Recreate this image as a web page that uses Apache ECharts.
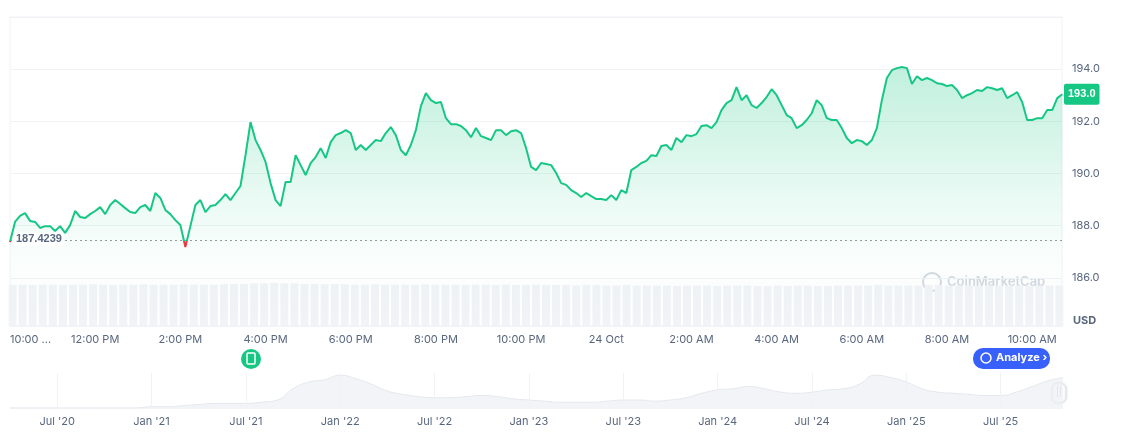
<!DOCTYPE html>
<html><head><meta charset="utf-8">
<script src="https://cdn.jsdelivr.net/npm/echarts@6/dist/echarts.min.js"></script>
<style>html,body{margin:0;padding:0;background:#fff}#c{width:1129px;height:435px}</style>
</head><body><div id="c"></div>
<script>
const refPrice = 187.4239;
const lastLabel = '193.0';
const prices = [187.37,188.14,188.37,188.48,188.18,188.14,187.91,187.98,187.98,187.79,187.98,187.72,188.02,188.56,188.33,188.29,188.44,188.56,188.71,188.44,188.79,188.98,188.83,188.67,188.52,188.48,188.71,188.79,188.56,189.25,189.06,188.60,188.44,188.21,188.02,187.18,187.98,188.79,188.98,188.52,188.75,188.79,188.98,189.21,188.98,189.25,189.52,190.70,191.97,191.28,190.90,190.44,189.63,188.98,188.75,189.67,189.67,190.70,190.32,189.94,190.40,190.63,190.97,190.59,191.20,191.47,191.55,191.66,191.55,190.90,191.09,190.90,191.09,191.28,191.24,191.55,191.78,191.47,190.90,190.70,191.09,191.66,192.58,193.08,192.81,192.70,192.74,192.12,191.89,191.89,191.82,191.66,191.39,191.74,191.43,191.36,191.28,191.66,191.66,191.47,191.62,191.66,191.55,190.97,190.25,190.13,190.40,190.36,190.32,190.02,189.63,189.56,189.36,189.25,189.10,189.25,189.13,189.02,189.02,188.98,189.17,188.98,189.36,189.25,190.13,190.25,190.40,190.48,190.70,190.67,191.05,191.09,190.90,191.36,191.20,191.47,191.43,191.51,191.82,191.85,191.74,191.97,192.43,192.70,192.81,193.31,192.81,193.00,192.62,192.51,192.70,192.93,193.23,193.00,192.62,192.24,192.12,191.74,191.85,192.05,192.31,192.81,192.62,192.12,192.05,192.05,191.74,191.36,191.16,191.28,191.24,191.09,191.28,191.74,192.81,193.66,193.96,194.04,194.08,194.04,193.43,193.73,193.58,193.66,193.58,193.46,193.43,193.35,193.39,193.20,192.89,193.00,193.08,193.20,193.16,193.31,193.27,193.20,193.27,192.89,193.00,193.12,192.74,192.05,192.05,192.12,192.12,192.43,192.43,192.89,193.04];
const volumes = [95,96,95,96,96,95,96,96,97,96,95,96,96,97,96,96,96,97,96,96,96,97,97,98,99,99,100,99,99,98,98,97,97,97,96,96,97,96,96,96,96,97,96,96,96,95,96,96,95,96,95,95,96,95,95,95,94,95,95,94,94,95,94,94,94,94,93,94,94,94,93,94,94,94,93,93,94,93,94,94,93,93,94,94,94,94,95,94,94,94,94,95,95,94,94,94,93,94,94,94,94,94,94,94,94];
const timeTicks = {0:'10:00 ...',2:'12:00 PM',4:'2:00 PM',6:'4:00 PM',8:'6:00 PM',10:'8:00 PM',12:'10:00 PM',14:'24 Oct',16:'2:00 AM',18:'4:00 AM',20:'6:00 AM',22:'8:00 AM',24:'10:00 AM'};
const priceTicks = [186,188,190,192,194];
const navStartMonth = 3;
const navValues = [1,1,1,1,1,1,1,1,1,2,2,3,4,5,5,5,6,8,18,24,26,30,27,22,16,13,11,10,10,11,12,11,9,8,7,6,6,6,7,8,8,7,8,10,14,17,18,20,18,15,14,15,17,18,22,30,28,24,18,15,14,13,12,12,15,20,25,28];
const navTicks = {6:"Jul '20",12:"Jan '21",18:"Jul '21",24:"Jan '22",30:"Jul '22",36:"Jan '23",42:"Jul '23",48:"Jan '24",54:"Jul '24",60:"Jan '25",66:"Jul '25"};

const step = 5/42.5;
const priceData = prices.map((v,i)=>[i*step, v]);
const volData = volumes.map((v,i)=>[i*(24.7/(volumes.length-1)), v]);
const navData = navValues.map((v,i)=>[navStartMonth+i, v]);

const chart = echarts.init(document.getElementById('c'));
const lab = {color:'#58667e', fontSize:11, fontFamily:'Inter'};
chart.setOption({
  animation:false,
  grid:[
    {left:10,right:67,top:17,height:309,show:true,borderColor:'#eff2f5',borderWidth:1},
    {left:10,right:67,top:283,height:43},
    {left:10,right:67,top:373,height:36}
  ],
  xAxis:[
    {type:'value',gridIndex:0,min:0,max:24.7,interval:2,
     axisLine:{show:false},axisTick:{show:false},splitLine:{show:false},
     axisLabel:{...lab,margin:8,showMaxLabel:false,alignMinLabel:'left',formatter:v=>timeTicks[Math.round(v)]||''}},
    {type:'value',gridIndex:1,min:-0.06,max:24.76,show:false},
    {type:'value',gridIndex:2,min:3,max:69.9,interval:1,
     axisLine:{show:false},axisTick:{show:false},splitLine:{show:false},
     axisLabel:{...lab,margin:7,showMaxLabel:false,hideOverlap:false,formatter:v=>navTicks[Math.round(v)]||''}}
  ],
  yAxis:[
    {type:'value',gridIndex:0,position:'right',min:184.15,max:196,
     axisLine:{show:false},axisTick:{show:false},
     splitLine:{lineStyle:{color:'#f0f2f5'}},
     axisLabel:{...lab,margin:10,customValues:priceTicks,formatter:v=>v.toFixed(1)}},
    {type:'value',gridIndex:1,min:0,max:100,show:false},
    {type:'value',gridIndex:2,min:0,max:32,show:false}
  ],
  visualMap:{show:false,type:'piecewise',seriesIndex:0,dimension:1,
    pieces:[{min:180,max:refPrice,color:'#ea3943'},{min:refPrice,max:200,color:'#16c784'}],
    outOfRange:{color:'#16c784'}},
  series:[
    {type:'line',xAxisIndex:0,yAxisIndex:0,data:priceData,showSymbol:false,
     lineStyle:{width:2},z:5,
     areaStyle:{color:{type:'linear',x:0,y:0,x2:0,y2:1,colorStops:[{offset:0,color:'rgba(22,199,132,0.38)'},{offset:0.7,color:'rgba(22,199,132,0.04)'},{offset:1,color:'rgba(22,199,132,0)'}]}},
     markLine:{symbol:'none',silent:true,data:[
       {yAxis:refPrice,lineStyle:{type:[2,3],color:'#999',width:1},
        label:{position:'insideStartTop',distance:4,offset:[0,9],formatter:String(refPrice),color:'#58667e',fontSize:11,fontWeight:'bold',backgroundColor:'#fff',padding:[1,2]}},
       {yAxis:prices[prices.length-1],lineStyle:{color:'rgba(0,0,0,0)',width:1},
        label:{show:true,position:'end',formatter:lastLabel,color:'#fff',fontSize:11,fontWeight:'bold',backgroundColor:'#16c784',padding:[5,4],borderRadius:2,distance:2}}
     ]}},
    {type:'bar',xAxisIndex:1,yAxisIndex:1,data:volData,barWidth:8,itemStyle:{color:'#f1f3f6'},z:1},
    {type:'line',xAxisIndex:2,yAxisIndex:2,data:navData,showSymbol:false,smooth:true,
     lineStyle:{color:'#e3e7ed',width:1},areaStyle:{color:'#eef0f4'},
     markLine:{symbol:'none',silent:true,label:{show:false},lineStyle:{color:'#f0f2f5',type:'solid',width:1},
       data:Object.keys(navTicks).map(k=>({xAxis:Number(k)}))}}
  ],
  graphic:[
    {type:'text',left:1073,top:315,style:{text:'USD',fill:'#58667e',font:'bold 11px Inter'}},
    {type:'text',left:947,top:276,style:{text:'CoinMarketCap',fill:'#d3d8e0',font:'600 13px Inter'}},
    {type:'circle',shape:{cx:932,cy:282,r:9},style:{fill:'none',stroke:'#d3d8e0',lineWidth:2}},
    {type:'circle',shape:{cx:251,cy:359,r:10},style:{fill:'#16c784'}},
    {type:'rect',shape:{x:247,y:353,width:8,height:11,r:1},style:{fill:'none',stroke:'#fff',lineWidth:1.5}},
    {type:'rect',shape:{x:973,y:348,width:77,height:21,r:10},style:{fill:'#3861fb'}},
    {type:'text',x:996,y:352,style:{text:'Analyze ›',fill:'#fff',font:'bold 11px Inter'}},
    {type:'circle',shape:{cx:986,cy:358,r:5},style:{fill:'none',stroke:'#fff',lineWidth:1.5}},
    {type:'rect',shape:{x:1052,y:383,width:14,height:20,r:6},style:{fill:'#fff',stroke:'#dde1e6',shadowBlur:3,shadowColor:'rgba(0,0,0,0.15)'}},
    {type:'text',x:1056,y:388,style:{text:'||',fill:'#b0b7c2',font:'9px Inter'}}
  ]
});
</script></body></html>
